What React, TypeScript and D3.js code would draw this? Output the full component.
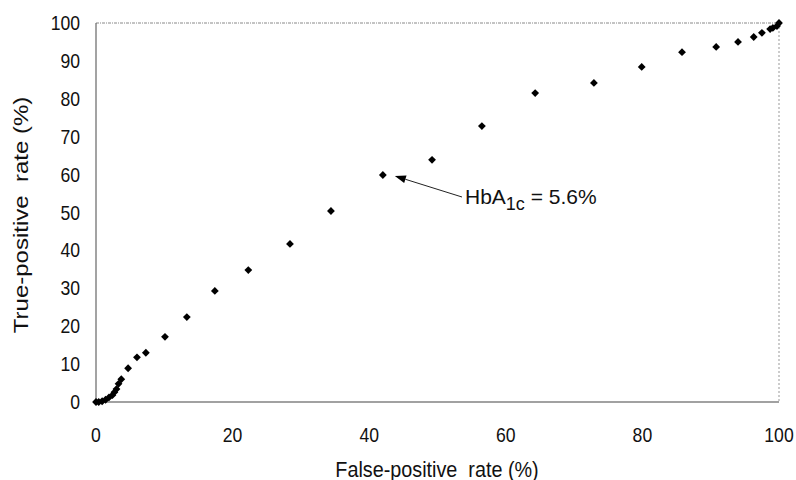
import React from "react";
import * as d3 from "d3";

const fpr = [0, 0.4, 0.9, 1.4, 1.9, 2.4, 2.7, 3.0, 3.3, 3.7, 4.7, 6.0, 7.3, 10.1, 13.3, 17.4, 22.3, 28.4, 34.4, 42.0, 49.2, 56.5, 64.3, 72.9, 79.9, 85.8, 90.8, 94.0, 96.3, 97.5, 98.7, 99.1, 99.7, 100];
const tpr = [0, 0, 0.2, 0.6, 1.2, 1.8, 2.6, 3.4, 4.8, 6.0, 8.9, 11.8, 13.0, 17.2, 22.4, 29.3, 34.8, 41.7, 50.4, 59.9, 63.9, 72.8, 81.5, 84.2, 88.4, 92.3, 93.7, 95.0, 96.3, 97.4, 98.4, 98.7, 99.2, 100];
const xTicks = [0, 20, 40, 60, 80, 100];
const yTicks = [0, 10, 20, 30, 40, 50, 60, 70, 80, 90, 100];
const xTitle = "False-positive  rate (%)";
const yTitle = "True-positive  rate (%)";
const annotPoint = { x: 42.0, y: 59.9 };

export default function App() {
  const W = 796, H = 480;
  const left = 96, right = 779, top = 23, bottom = 402;
  const x = d3.scaleLinear().domain([0, 100]).range([left, right]);
  const y = d3.scaleLinear().domain([0, 100]).range([bottom, top]);
  const r = 3.9;
  const font = "'Liberation Sans', Arial, sans-serif";
  const sx = 0.88;

  const tipX = x(annotPoint.x) + 12;
  const tipY = y(annotPoint.y) + 1;
  const startX = 462, startY = 197;
  const ang = Math.atan2(startY - tipY, startX - tipX);
  const ah = 11, aw = 4;
  const bx = tipX + ah * Math.cos(ang), by = tipY + ah * Math.sin(ang);
  const px = -Math.sin(ang) * aw, py = Math.cos(ang) * aw;

  return (
    <svg width={W} height={H} style={{ position: "absolute", left: 0, top: 0, background: "#fff" }}>
      <rect x={0} y={0} width={W} height={H} fill="#fff" />
      <line x1={left} y1={top} x2={right} y2={top} stroke="#888" strokeWidth={1} strokeDasharray="3,1,1,1" />
      <line x1={right} y1={top} x2={right} y2={bottom} stroke="#999" strokeWidth={1} strokeDasharray="2,2" />
      <line x1={left} y1={top} x2={left} y2={bottom} stroke="#666" strokeWidth={1.2} />
      <line x1={left} y1={bottom} x2={right} y2={bottom} stroke="#444" strokeWidth={1.2} />
      {yTicks.map((t) => (
        <text key={"y" + t} transform={`translate(80,${y(t) + 7}) scale(${sx},1)`} textAnchor="end" fontFamily={font} fontSize={20} fill="#111">
          {t}
        </text>
      ))}
      {xTicks.map((t) => (
        <text key={"x" + t} transform={`translate(${x(t)},${442}) scale(${sx},1)`} textAnchor="middle" fontFamily={font} fontSize={20} fill="#111">
          {t}
        </text>
      ))}
      <text transform={`translate(437,477) scale(0.9,1)`} textAnchor="middle" fontFamily={font} fontSize={22} fill="#111" style={{ whiteSpace: "pre" }}>
        {xTitle}
      </text>
      <text transform={`translate(28,215) rotate(-90) scale(1,0.82)`} textAnchor="middle" fontFamily={font} fontSize={24} fill="#111" style={{ whiteSpace: "pre" }}>
        {yTitle}
      </text>
      {fpr.map((v, i) => {
        const cx = x(v), cy = y(tpr[i]);
        return <path key={i} d={`M${cx},${cy - r}L${cx + r},${cy}L${cx},${cy + r}L${cx - r},${cy}Z`} fill="#000" />;
      })}
      <line x1={startX} y1={startY} x2={bx} y2={by} stroke="#222" strokeWidth={1} />
      <path d={`M${tipX},${tipY}L${bx + px},${by + py}L${bx - px},${by - py}Z`} fill="#000" />
      <text x={465} y={204} fontFamily={font} fontSize={21} fill="#111">
        HbA<tspan fontSize={18} dy={6}>1c</tspan><tspan dy={-6}> = 5.6%</tspan>
      </text>
    </svg>
  );
}
